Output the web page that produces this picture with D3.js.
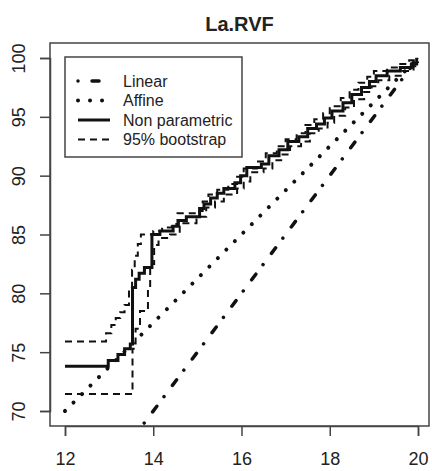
<!DOCTYPE html>
<html>
<head>
<meta charset="utf-8">
<script src="https://cdn.jsdelivr.net/npm/d3@7"></script>
<style>
  body { margin: 0; background: #fff; }
  text { font-family: "Liberation Sans", Arial, sans-serif; fill: #222; }
</style>
</head>
<body>
<svg width="432" height="471"></svg>
<script>
// x range of the curves (Linear and Affine are straight lines)
const lineX = [12, 20];
const linearY = [60, 100];
const affineY = [70, 100];

// non parametric estimate (step function)
const npX = [12, 12.98, 13.2, 13.35, 13.48, 13.53, 13.6, 13.68, 13.8, 13.97, 14.15, 14.45, 14.57, 14.75,
  15.05, 15.15, 15.3, 15.45, 15.6, 15.85, 15.98, 16.12, 16.45, 16.62, 16.85, 17.05, 17.3, 17.5, 17.7,
  17.88, 18.05, 18.3, 18.5, 18.72, 18.9, 19.05, 19.3, 19.6, 19.85, 19.97, 20];
const npY = [73.8, 74.3, 74.8, 75.3, 75.7, 80.5, 81.2, 81.7, 82.2, 85.0, 85.3, 85.7, 86.2, 86.5,
  87.2, 87.6, 88.1, 88.5, 88.9, 89.4, 90.0, 90.7, 91.0, 91.7, 92.2, 92.9, 93.3, 94.0, 94.4,
  94.9, 95.5, 96.2, 96.9, 97.5, 98.0, 98.5, 98.9, 99.2, 99.5, 99.9, 99.9];

// 95% bootstrap band
const upX = [12, 12.93, 13.05, 13.15, 13.25, 13.35, 13.45, 13.52, 13.58, 13.65, 13.72, 14.0, 14.2, 14.42,
  14.55, 15.0, 15.12, 15.25, 15.45, 15.7, 15.9, 16.05, 16.35, 16.55, 16.8, 17.0, 17.25, 17.45, 17.65,
  17.85, 18.0, 18.25, 18.45, 18.65, 18.85, 19.0, 19.3, 19.55, 19.8, 20];
const upY = [75.9, 76.6, 77.3, 77.9, 78.4, 79.0, 80.5, 82.0, 83.2, 84.2, 85.0, 85.3, 85.6, 85.9,
  86.8, 87.0, 87.8, 88.4, 88.8, 89.3, 89.9, 90.6, 91.2, 91.9, 92.5, 93.1, 93.6, 94.3, 94.8,
  95.3, 95.9, 96.6, 97.3, 97.9, 98.4, 98.9, 99.2, 99.5, 99.8, 100];
const loX = [12, 13.53, 13.6, 13.7, 13.88, 13.93, 14.02, 14.12, 14.38, 14.6, 14.98, 15.2, 15.4, 15.6,
  15.9, 16.05, 16.2, 16.5, 16.7, 16.9, 17.1, 17.35, 17.55, 17.75, 17.95, 18.1, 18.35, 18.55, 18.78,
  18.95, 19.1, 19.35, 19.65, 19.9, 20];
const loY = [71.45, 75.3, 77.0, 78.5, 80.5, 82.5, 84.1, 84.7, 85.0, 85.95, 86.5, 87.3, 87.8, 88.4,
  88.9, 89.5, 90.3, 90.6, 91.3, 91.8, 92.5, 92.9, 93.6, 94.0, 94.5, 95.1, 95.8, 96.5, 97.1,
  97.6, 98.1, 98.5, 98.9, 99.3, 99.7];

const xTicks = [12, 14, 16, 18, 20];
const yTicks = [70, 75, 80, 85, 90, 95, 100];
const legendLabels = ["Linear", "Affine", "Non parametric", "95% bootstrap"];

const svg = d3.select("svg");
const box = { left: 50, right: 429, top: 43, bottom: 426 };

const x = d3.scaleLinear().domain([12, 20]).range([65, 418]);
const y = d3.scaleLinear().domain([70, 100]).range([411, 58]);

const styles = [
  { width: 3.5, dash: "0.01 14 7 12", cap: "round" },
  { width: 4, dash: "0.01 12", cap: "round" },
  { width: 3, dash: null, cap: "butt" },
  { width: 2, dash: "7 5", cap: "butt" }
];

svg.append("clipPath").attr("id", "plotclip")
  .append("rect")
  .attr("x", box.left).attr("y", box.top)
  .attr("width", box.right - box.left).attr("height", box.bottom - box.top);

const plot = svg.append("g").attr("clip-path", "url(#plotclip)");

function draw(xs, ys, st, curve) {
  const pts = xs.map((d, i) => [d, ys[i]]);
  plot.append("path")
    .datum(pts)
    .attr("d", d3.line().x(d => x(d[0])).y(d => y(d[1])).curve(curve))
    .attr("fill", "none")
    .attr("stroke", "#111")
    .attr("stroke-width", st.width)
    .attr("stroke-linecap", st.cap)
    .attr("stroke-dasharray", st.dash);
}

draw(lineX, linearY, styles[0], d3.curveLinear);
draw(lineX, affineY, styles[1], d3.curveLinear);
draw(upX, upY, styles[3], d3.curveStepAfter);
draw(loX, loY, styles[3], d3.curveStepAfter);
draw(npX, npY, styles[2], d3.curveStepAfter);

// box
svg.append("rect")
  .attr("x", box.left).attr("y", box.top)
  .attr("width", box.right - box.left).attr("height", box.bottom - box.top)
  .attr("fill", "none").attr("stroke", "#444").attr("stroke-width", 1.5);

// x axis
const xAxis = svg.append("g").attr("transform", "translate(0," + box.bottom + ")")
  .call(d3.axisBottom(x).tickValues(xTicks).tickSize(10).tickPadding(16).tickFormat(d3.format("d")));
xAxis.select(".domain").attr("stroke", "#444").attr("stroke-width", 1.5);
xAxis.selectAll(".tick line").attr("stroke", "#444").attr("stroke-width", 1.5);
xAxis.selectAll(".tick text").attr("font-size", 18).attr("font-family", "Liberation Sans, Arial, sans-serif")
  .attr("fill", "#222").attr("dy", "0.71em");

// y axis
const yAxis = svg.append("g").attr("transform", "translate(" + box.left + ",0)")
  .call(d3.axisLeft(y).tickValues(yTicks).tickSize(10).tickFormat(d3.format("d")));
yAxis.select(".domain").attr("stroke", "#444").attr("stroke-width", 1.5);
yAxis.selectAll(".tick line").attr("stroke", "#444").attr("stroke-width", 1.5);
yAxis.selectAll(".tick text")
  .attr("font-size", 18).attr("font-family", "Liberation Sans, Arial, sans-serif").attr("fill", "#222")
  .attr("x", null).attr("dy", null)
  .attr("text-anchor", "middle")
  .attr("transform", "translate(-25,0) rotate(-90)");

// title
svg.append("text")
  .attr("x", (box.left + box.right) / 2).attr("y", 31)
  .attr("text-anchor", "middle")
  .attr("font-size", 20).attr("font-weight", "bold")
  .text("La.RVF");

// legend
const legend = svg.append("g");
legend.append("rect")
  .attr("x", 65).attr("y", 57).attr("width", 177).attr("height", 100)
  .attr("fill", "#fff").attr("stroke", "#444").attr("stroke-width", 1.5);

const rows = legend.selectAll("g.entry").data(legendLabels).enter()
  .append("g").attr("class", "entry")
  .attr("transform", (d, i) => "translate(0," + (81 + i * 19.5) + ")");

rows.append("line")
  .attr("x1", 78).attr("x2", 110).attr("y1", 0).attr("y2", 0)
  .attr("stroke", "#111")
  .attr("stroke-width", (d, i) => styles[i].width)
  .attr("stroke-linecap", (d, i) => styles[i].cap)
  .attr("stroke-dasharray", (d, i) => styles[i].dash);

rows.append("text")
  .attr("x", 123).attr("y", 0).attr("dy", "0.35em")
  .attr("font-size", 16)
  .text(d => d);
</script>
</body>
</html>
